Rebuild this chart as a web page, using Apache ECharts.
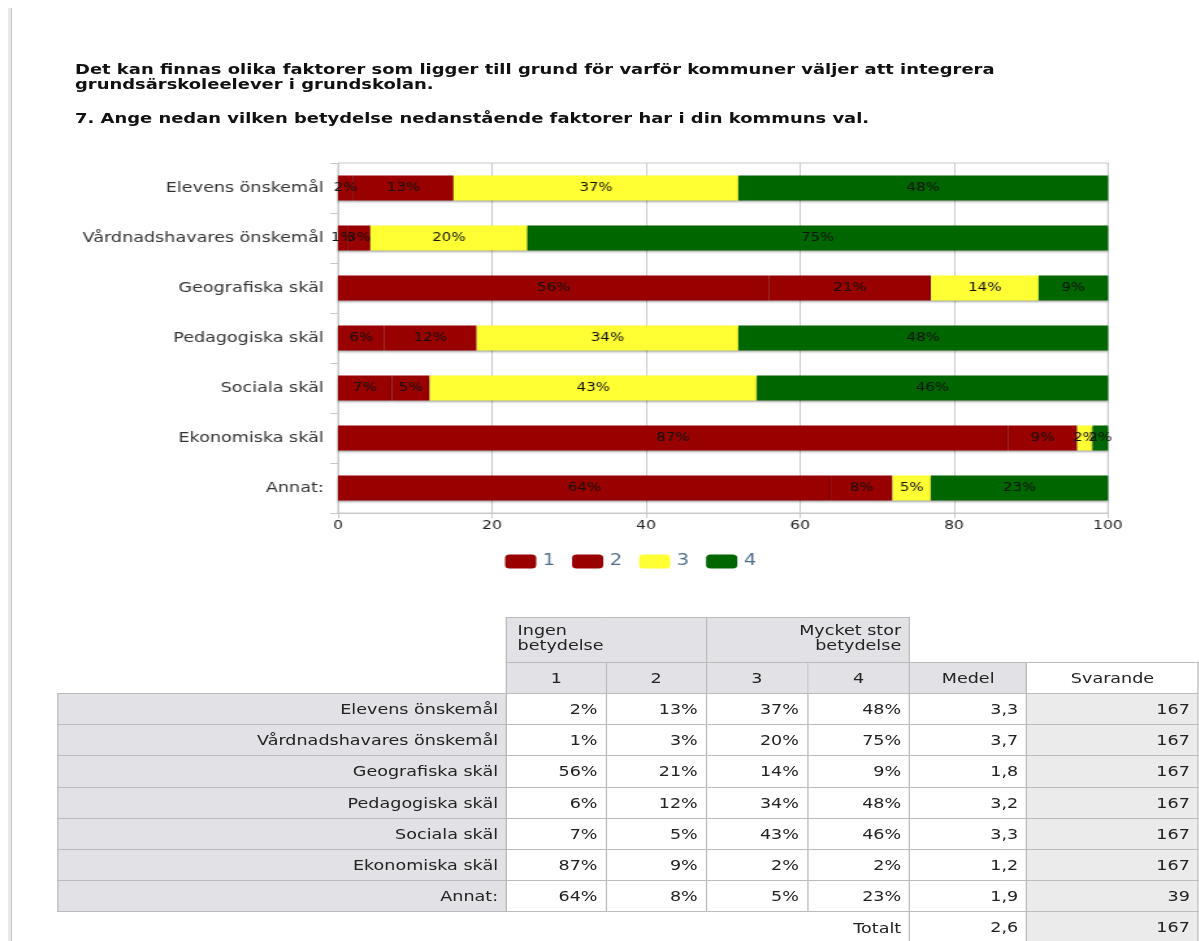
<!DOCTYPE html>
<html><head><meta charset="utf-8">
<script src="https://cdn.jsdelivr.net/npm/echarts@6/dist/echarts.min.js"></script>
<style>
html,body{margin:0;padding:0;background:#fff;overflow:hidden;width:1199px;height:941px;}
#sidebar{position:absolute;left:8px;top:8px;width:3px;height:933px;background:#e8e8e8;border-right:1px solid #c4c4c4;}
#stage{position:absolute;left:0;top:0;width:922.3px;height:941px;transform:scaleX(1.3);transform-origin:0 0;font-family:'DejaVu Sans',Verdana,sans-serif;color:#222;}
.t{position:absolute;left:57.7px;font-weight:bold;font-size:13.8px;line-height:15px;color:#111;white-space:nowrap;}
#chart{position:absolute;left:0;top:140px;width:922.3px;height:460px;}
#tbl{position:absolute;left:43.8px;top:617px;border-collapse:collapse;table-layout:fixed;font-size:13.5px;color:#222;}
#tbl td{border:1px solid #bbb;padding:0 6px 0 0;text-align:right;white-space:nowrap;overflow:hidden;}
#tbl td.e{border:none;background:#fff;}
#tbl td.h{background:#e2e2e6;}
#tbl td.lab{background:#e2e2e6;}
#tbl td.v{background:#fff;}
#tbl td.sv{background:#ebebeb;}
#tbl tr.r1 td{height:39px;vertical-align:top;}
#tbl tr.r1 td.h{padding-top:5px;line-height:15px;}
#tbl tr.r2 td{height:30px;}
#tbl tr.rd td{height:30.2px;}
#tbl tr.rt td{height:30px;}
</style>
</head><body>
<div id="sidebar"></div>
<div id="stage">
  <div class="t" style="top:62px">Det kan finnas olika faktorer som ligger till grund för varför kommuner väljer att integrera</div>
  <div class="t" style="top:77px">grundsärskoleelever i grundskolan.</div>
  <div class="t" style="top:111px">7. Ange nedan vilken betydelse nedanstående faktorer har i din kommuns val.</div>
  <div id="chart"></div>
  <table id="tbl"></table>
</div>
<script>
// ---- data (percent shares; table shows them rounded) ----
const categories = ['Elevens önskemål','Vårdnadshavares önskemål','Geografiska skäl','Pedagogiska skäl','Sociala skäl','Ekonomiska skäl','Annat:'];
const seriesNames = ['1','2','3','4'];
const v1 = [2, 1.2, 56, 6, 7, 87, 64];
const v2 = [13, 3.0, 21, 12, 4.9, 9, 8];
const v3 = [37, 20.4, 14, 34, 42.5, 2, 5];
const v4 = [48, 75.4, 9, 48, 45.6, 2, 23];
const medel = ['3,3','3,7','1,8','3,2','3,3','1,2','1,9'];
const svarande = [167, 167, 167, 167, 167, 167, 39];
const totalMedel = '2,6';
const totalSvarande = 167;
const xTicks = [0, 20, 40, 60, 80, 100];
const headerLow = 'Ingen<br>betydelse';
const headerHigh = 'Mycket stor<br>betydelse';

// ---- chart ----
const FONT = "'DejaVu Sans', Verdana, sans-serif";
const colors = ['#990000','#990000','#ffff33','#006600'];
const values = [v1, v2, v3, v4];
const pct = v => Math.round(v) + '%';
const chart = echarts.init(document.getElementById('chart'), null, {renderer:'canvas'});
chart.setOption({
  animation:false,
  backgroundColor:'transparent',
  grid:{left:260, top:23, width:592.3, height:350, show:true, borderColor:'#c8c8c8', borderWidth:1, containLabel:false, outerBoundsMode:'none'},
  legend:{left:383.5, top:409, itemWidth:24, itemHeight:14, itemGap:13, icon:'roundRect', data:seriesNames,
    textStyle:{fontSize:15, color:'#4f6d8f', fontFamily:FONT}},
  xAxis:{type:'value', min:xTicks[0], max:xTicks[xTicks.length-1], interval:xTicks[1]-xTicks[0],
    axisLine:{show:true, lineStyle:{color:'#c8c8c8'}},
    axisTick:{show:true, length:5, lineStyle:{color:'#c8c8c8'}},
    axisLabel:{fontSize:12, color:'#222', margin:7, fontFamily:FONT},
    splitLine:{show:true, lineStyle:{color:'#c8c8c8', width:1}}},
  yAxis:{type:'category', inverse:true, data:categories,
    axisLine:{show:true, lineStyle:{color:'#c8c8c8'}},
    axisTick:{show:true, length:6, lineStyle:{color:'#c8c8c8'}},
    axisLabel:{fontSize:13.5, color:'#333', margin:11, fontFamily:FONT},
    splitLine:{show:false}},
  series: seriesNames.map((n,i)=>({
    name:n, type:'bar', stack:'total', barWidth:25, data:values[i],
    itemStyle:{color:colors[i], shadowBlur:2, shadowColor:'rgba(0,0,0,0.35)', shadowOffsetX:0, shadowOffsetY:1},
    label:{show:true, position:'inside', formatter:p=>pct(p.value), color:'#111', fontSize:11.5, fontFamily:FONT},
    emphasis:{disabled:true}
  }))
});

// ---- table ----
const tbl = document.getElementById('tbl');
const widths = [347.7, 77, 77.7, 78.4, 79.2, 90.8, 133];
let html = '<colgroup>' + widths.map(w=>'<col style="width:'+w+'px">').join('') + '</colgroup>';
html += '<tr class="r1"><td class="e"></td><td class="h" colspan="2" style="text-align:left;padding-left:8px">'+headerLow+'</td><td class="h" colspan="2" style="text-align:right;padding-right:6px">'+headerHigh+'</td><td class="e"></td><td class="e"></td></tr>';
html += '<tr class="r2"><td class="e"></td>' + seriesNames.map(n=>'<td class="h" style="text-align:center;padding:0">'+n+'</td>').join('') +
        '<td class="h" style="text-align:center;padding:0">Medel</td><td class="v" style="text-align:center;padding:0">Svarande</td></tr>';
categories.forEach((c,i)=>{
  html += '<tr class="rd"><td class="lab">'+c+'</td>' + values.map(arr=>'<td class="v">'+pct(arr[i])+'</td>').join('') +
          '<td class="v">'+medel[i]+'</td><td class="sv">'+svarande[i]+'</td></tr>';
});
html += '<tr class="rt"><td class="e"></td><td class="e"></td><td class="e"></td><td class="e"></td><td class="e">Totalt</td><td class="v">'+totalMedel+'</td><td class="sv">'+totalSvarande+'</td></tr>';
tbl.innerHTML = html;
</script>
</body></html>
